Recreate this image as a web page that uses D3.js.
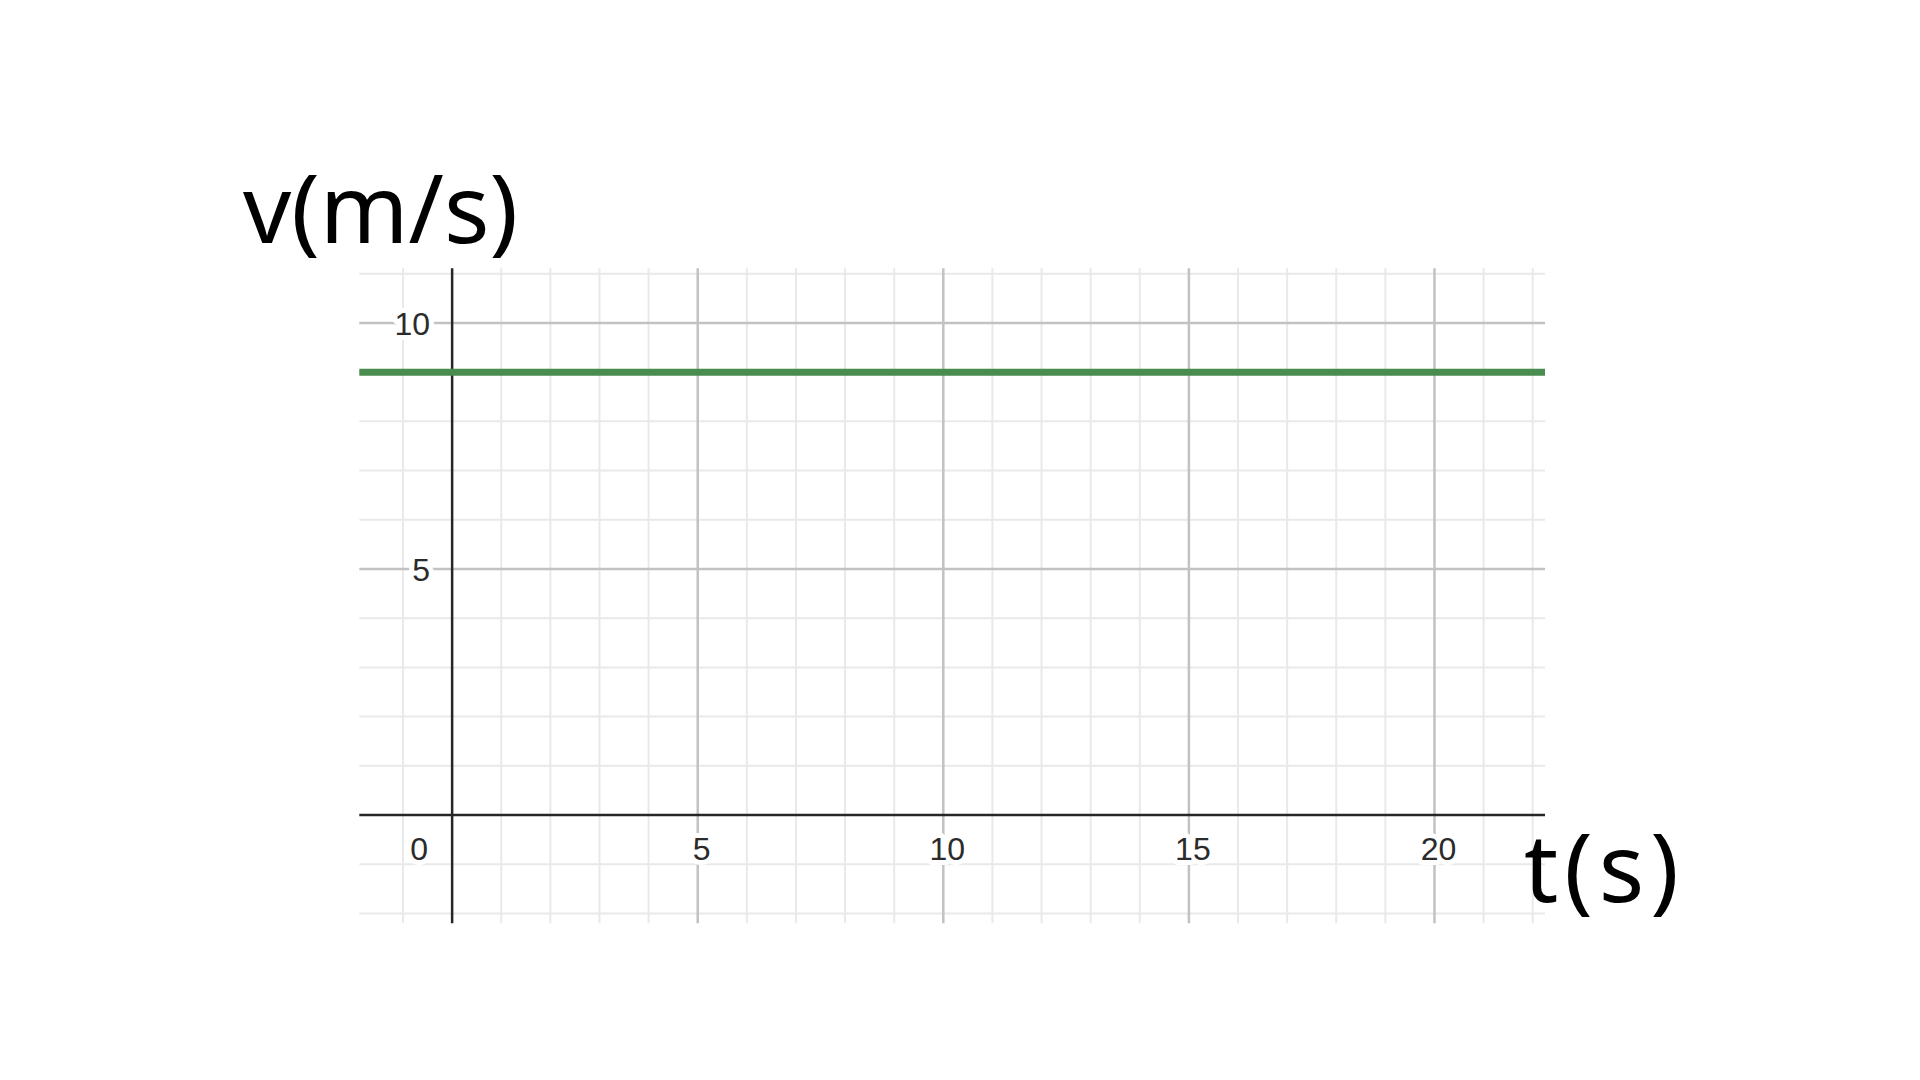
<!DOCTYPE html>
<html>
<head>
<meta charset="utf-8">
<script src="https://cdn.jsdelivr.net/npm/d3@7"></script>
<style>
  html, body { margin: 0; padding: 0; background: #fff; }
  svg { display: block; }
</style>
</head>
<body>
<svg id="chart" width="1920" height="1080"></svg>
<script>
// ---- data ----
const tDomain = [-1.89, 22.25];      // visible time window (s)
const vDomain = [-2.2, 11.11];       // visible velocity window (m/s)
const tData = [-1.89, 22.25];        // time samples of the series
const vData = [9, 9];                // constant velocity 9 m/s
const xTickValues = [0, 5, 10, 15, 20];
const yTickValues = [5, 10];
const xMinor = [-1, 1, 2, 3, 4, 6, 7, 8, 9, 11, 12, 13, 14, 16, 17, 18, 19, 21, 22];
const yMinor = [-2, -1, 1, 2, 3, 4, 6, 7, 8, 9, 11];
const xMajor = [5, 10, 15, 20];
const yMajor = [5, 10];
const xTitle = "t(s)";
const yTitle = "v(m/s)";

(function () {
// ---- layout ----
const pLeft = 359.3, pRight = 1545, pTop = 268.3, pBottom = 923.3;
const svg = d3.select("#chart");
const x = d3.scaleLinear().domain(tDomain).range([pLeft, pRight]);
const y = d3.scaleLinear().domain(vDomain).range([pBottom, pTop]);

const g = svg.append("g");

// minor grid
g.append("g").selectAll("line").data(xMinor).join("line")
  .attr("x1", d => x(d)).attr("x2", d => x(d))
  .attr("y1", pTop).attr("y2", pBottom)
  .attr("stroke", "#e9e9e9").attr("stroke-width", 2);
g.append("g").selectAll("line").data(yMinor).join("line")
  .attr("y1", d => y(d)).attr("y2", d => y(d))
  .attr("x1", pLeft).attr("x2", pRight)
  .attr("stroke", "#e9e9e9").attr("stroke-width", 2);

// major grid
g.append("g").selectAll("line").data(xMajor).join("line")
  .attr("x1", d => x(d)).attr("x2", d => x(d))
  .attr("y1", pTop).attr("y2", pBottom)
  .attr("stroke", "#c2c2c2").attr("stroke-width", 2.5);
g.append("g").selectAll("line").data(yMajor).join("line")
  .attr("y1", d => y(d)).attr("y2", d => y(d))
  .attr("x1", pLeft).attr("x2", pRight)
  .attr("stroke", "#c2c2c2").attr("stroke-width", 2.5);

// tick labels with white halo
const labelStyle = sel => sel
  .attr("font-family", "'Liberation Sans', Arial, sans-serif")
  .attr("font-size", 32)
  .attr("fill", "#2b2b2b")
  .attr("stroke", "#fff").attr("stroke-width", 10)
  .attr("stroke-linejoin", "round")
  .attr("paint-order", "stroke")
  .attr("dominant-baseline", "central");

g.append("g").selectAll("text").data(yTickValues).join("text")
  .attr("x", x(0) - 22).attr("y", d => y(d) + 1.5)
  .attr("text-anchor", "end")
  .text(d => d)
  .call(labelStyle);

g.append("g").selectAll("text").data(xTickValues).join("text")
  .attr("x", d => d === 0 ? x(0) - 33 : x(d) + 4)
  .attr("y", y(0) + 34)
  .attr("text-anchor", "middle")
  .text(d => d)
  .call(labelStyle);

// axes
g.append("line")
  .attr("x1", pLeft).attr("x2", pRight)
  .attr("y1", y(0)).attr("y2", y(0))
  .attr("stroke", "#262626").attr("stroke-width", 2.5);
g.append("line")
  .attr("x1", x(0)).attr("x2", x(0))
  .attr("y1", pTop).attr("y2", pBottom)
  .attr("stroke", "#262626").attr("stroke-width", 2.5);

// series
const line = d3.line().x((d, i) => x(tData[i])).y(d => y(d));
g.append("path")
  .datum(vData)
  .attr("d", line)
  .attr("fill", "none")
  .attr("stroke", "#4a8b4f")
  .attr("stroke-width", 7);

// axis titles
const titleStyle = sel => sel
  .attr("font-family", "'Noto Sans', 'DejaVu Sans', sans-serif")
  .attr("font-size", 95)
  .attr("fill", "#000");

svg.append("text").attr("x", 243).attr("y", 243).text(yTitle).call(titleStyle);
svg.append("text").attr("x", 1524).attr("y", 902)
  .attr("letter-spacing", 6).text(xTitle).call(titleStyle);
})();
</script>
</body>
</html>
